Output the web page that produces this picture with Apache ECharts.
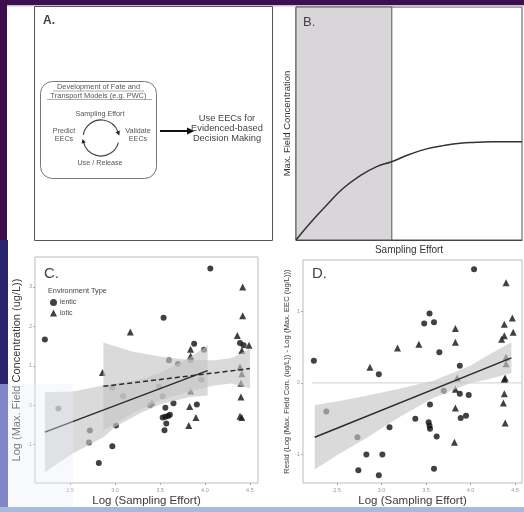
<!DOCTYPE html>
<html>
<head>
<meta charset="utf-8">
<script src="https://cdn.jsdelivr.net/npm/echarts@6/dist/echarts.min.js"></script>
<style>
  html, body { margin: 0; padding: 0; background: #fff; }
  #main { width: 524px; height: 512px; }
</style>
</head>
<body>
<div id="main"></div>
<script>
// panel B: conceptual curve (0-100 units on both axes)
var curveX = [0, 6.2, 13.6, 20.9, 28.3, 35.7, 42.3, 50.4, 57.8, 65.2, 72.6, 80, 87.3, 100]
var curveY = [0, 7.2, 15.0, 22.2, 27.5, 31.5, 33.6, 36.8, 39.1, 40.5, 41.5, 41.9, 42.2, 42.2]
var shadeEnd = 42.4

// panel C: log sampling effort vs log max field concentration
var lenticC = [
  [2.22, 1.67], [2.37, -0.08], [2.72, -0.64], [2.71, -0.94], [2.82, -1.46], [2.97, -1.04],
  [2.97, 0.45], [3.01, -0.51], [3.09, 0.23], [3.39, 0.0], [3.49, 0.47], [3.53, 0.23],
  [3.54, 2.22], [3.56, -0.06], [3.53, -0.31], [3.56, -0.29], [3.59, -0.27], [3.61, -0.24],
  [3.57, -0.46], [3.55, -0.63], [3.60, 1.14], [3.65, 0.05], [3.70, 1.05], [3.84, 1.14],
  [3.88, 1.56], [3.91, 0.02], [3.96, 0.65], [3.99, 1.41], [4.06, 3.47], [4.39, 1.58], [4.43, 1.52]
]
var loticC = [
  [2.86, 0.83], [3.17, 1.86], [3.41, 0.08], [3.82, -0.51], [3.83, -0.03], [3.84, 1.42],
  [3.84, 1.25], [3.84, 0.36], [3.90, -0.31], [4.36, 1.77], [4.42, 3.0], [4.42, 2.27],
  [4.41, 1.39], [4.49, 1.52], [4.39, 0.97], [4.41, 0.80], [4.40, 0.56], [4.40, 0.21],
  [4.39, -0.28], [4.41, -0.31]
]
var lenticFitC = [[2.22, -0.68], [4.03, 0.88]]
var loticFitC = [[2.87, 0.48], [4.5, 0.93]]
var lenticBandX = [2.22, 2.53, 2.87, 3.0, 3.28, 3.5, 3.83, 4.03]
var lenticBandLo = [-1.70, -1.22, -0.81, -0.55, -0.20, 0.02, 0.21, 0.25]
var lenticBandHi = [0.33, 0.35, 0.50, 0.55, 0.66, 0.82, 1.21, 1.52]
var loticBandX = [2.87, 3.2, 3.5, 3.83, 4.1, 4.3, 4.5]
var loticBandLo = [-0.64, -0.2, 0.12, 0.35, 0.5, 0.55, 0.43]
var loticBandHi = [1.59, 1.36, 1.24, 1.15, 1.14, 1.2, 1.44]

// panel D: residuals
var lenticD = [
  [2.24, 0.31], [2.38, -0.40], [2.73, -0.76], [2.74, -1.22], [2.83, -1.0], [2.97, 0.12],
  [3.01, -1.0], [2.97, -1.29], [3.09, -0.62], [3.38, -0.5], [3.48, 0.83], [3.54, 0.97],
  [3.545, -0.30], [3.53, -0.55], [3.54, -0.6], [3.545, -0.64], [3.59, 0.85], [3.62, -0.75],
  [3.59, -1.2], [3.65, 0.43], [3.70, -0.11], [3.88, 0.24], [3.88, -0.15], [3.89, -0.49],
  [3.95, -0.46], [3.98, -0.17], [4.04, 1.59]
]
var loticD = [
  [2.87, 0.22], [3.18, 0.49], [3.42, 0.54], [3.83, 0.76], [3.83, 0.57], [3.85, 0.07],
  [3.83, -0.09], [3.83, -0.35], [3.82, -0.83], [4.35, 0.61], [4.38, 0.66], [4.38, 0.82],
  [4.40, 1.40], [4.40, 0.36], [4.40, 0.27], [4.39, 0.07], [4.38, 0.05], [4.38, -0.15],
  [4.37, -0.28], [4.39, -0.56], [4.47, 0.91], [4.48, 0.71]
]
var fitD = [[2.25, -0.76], [4.46, 0.35]]
var zeroD = [[2.22, 0], [4.58, 0]]
var bandDX = [2.25, 2.5, 2.83, 3.2, 3.58, 4.0, 4.2, 4.46]
var bandDLo = [-1.21, -1.01, -0.77, -0.48, -0.21, 0.0, 0.05, 0.14]
var bandDHi = [-0.31, -0.26, -0.18, -0.08, 0.03, 0.24, 0.39, 0.57]

var xTicks = [2.5, 3.0, 3.5, 4.0, 4.5]
var yTicksC = [-1, 0, 1, 2, 3]
var yTicksD = [-1, 0, 1]

var FONT = "'Liberation Sans', Arial, sans-serif"

function zip(xs, ys) {
  return xs.map(function (x, i) { return [x, ys[i]] })
}

// confidence ribbon as a polygon, drawn on top of the points like ggplot does
function ribbon(gi, xs, lo, hi) {
  return {
    type: 'custom',
    xAxisIndex: gi,
    yAxisIndex: gi,
    z: 3,
    silent: true,
    data: [[xs[0], lo[0]]],
    renderItem: function (params, api) {
      var pts = []
      for (var i = 0; i < xs.length; i++) pts.push(api.coord([xs[i], hi[i]]))
      for (var j = xs.length - 1; j >= 0; j--) pts.push(api.coord([xs[j], lo[j]]))
      return {
        type: 'polygon',
        shape: { points: pts },
        style: { fill: 'rgba(198,198,198,0.65)' },
      }
    },
  }
}

function scatter(name, gi, data, symbol, size) {
  return {
    name: name,
    type: 'scatter',
    xAxisIndex: gi,
    yAxisIndex: gi,
    symbol: symbol,
    symbolSize: size,
    z: 2,
    itemStyle: { color: '#111' },
    data: data,
  }
}

function fitLine(gi, data, dash, color, width, z) {
  return {
    type: 'line',
    xAxisIndex: gi,
    yAxisIndex: gi,
    symbol: 'none',
    silent: true,
    z: z,
    lineStyle: { color: color, width: width, type: dash },
    data: data,
  }
}

function scatterX(gi, min, max, name) {
  return {
    type: 'value',
    gridIndex: gi,
    min: min,
    max: max,
    splitLine: { show: false },
    axisLine: { show: false, onZero: false },
    axisTick: { show: true, length: 2, customValues: xTicks, lineStyle: { color: '#aaa' } },
    axisLabel: {
      customValues: xTicks,
      fontSize: 5.5,
      color: '#999',
      margin: 4,
      formatter: function (v) { return v.toFixed(1) },
    },
    name: name,
    nameLocation: 'middle',
    nameGap: 12,
    nameTextStyle: { fontSize: 11.5, color: '#3a3a3a', fontFamily: FONT },
  }
}

function scatterY(gi, min, max, ticks, name, size, gap) {
  return {
    type: 'value',
    gridIndex: gi,
    min: min,
    max: max,
    splitLine: { show: false },
    axisLine: { show: false, onZero: false },
    axisTick: { show: true, length: 2, customValues: ticks, lineStyle: { color: '#aaa' } },
    axisLabel: { customValues: ticks, fontSize: 5.5, color: '#999', margin: 3 },
    name: name,
    nameLocation: 'middle',
    nameRotate: 90,
    nameGap: gap,
    nameTextStyle: { fontSize: size, color: '#3a3a3a', fontFamily: FONT },
  }
}

function txt(x, y, s, size, color, align, weight) {
  return {
    type: 'text',
    x: x,
    y: y,
    z: 10,
    style: {
      text: s,
      fontSize: size,
      fontFamily: FONT,
      fontWeight: weight || 'normal',
      fill: color,
      align: align || 'left',
      verticalAlign: 'middle',
    },
  }
}

function line(x1, y1, x2, y2, color, w) {
  return {
    type: 'line',
    z: 10,
    shape: { x1: x1, y1: y1, x2: x2, y2: y2 },
    style: { stroke: color, lineWidth: w },
  }
}

var myChart = echarts.init(document.getElementById('main'))
myChart.setOption({
  backgroundColor: '#ffffff',
  animation: false,
  textStyle: { fontFamily: FONT },
  grid: [
    { left: 296, top: 7, width: 226, height: 233, show: true, borderColor: '#555', borderWidth: 1 },
    { left: 35, top: 257, width: 223, height: 226, show: true, borderColor: '#bbb', borderWidth: 1 },
    { left: 303, top: 260, width: 219, height: 223, show: true, borderColor: '#bbb', borderWidth: 1 },
  ],
  xAxis: [
    {
      type: 'value',
      gridIndex: 0,
      min: 0,
      max: 100,
      splitLine: { show: false },
      axisTick: { show: false },
      axisLabel: { show: false },
      axisLine: { show: true, onZero: false, lineStyle: { color: '#444', width: 1 } },
      name: 'Sampling Effort',
      nameLocation: 'middle',
      nameGap: 5,
      nameTextStyle: { fontSize: 10, color: '#333', fontFamily: FONT, verticalAlign: 'top' },
    },
    scatterX(1, 2.11, 4.59, 'Log (Sampling Effort)'),
    scatterX(2, 2.118, 4.579, 'Log (Sampling Effort)'),
  ],
  yAxis: [
    {
      type: 'value',
      gridIndex: 0,
      min: 0,
      max: 100,
      splitLine: { show: false },
      axisTick: { show: false },
      axisLabel: { show: false },
      axisLine: { show: true, onZero: false, lineStyle: { color: '#444', width: 1 } },
      name: 'Max. Field Concentration',
      nameLocation: 'middle',
      nameRotate: 90,
      nameGap: 4,
      nameTextStyle: { fontSize: 9.5, color: '#333', fontFamily: FONT },
    },
    scatterY(1, -1.97, 3.76, yTicksC, 'Log (Max. Field Concentration (ug/L))', 11, 13),
    scatterY(2, -1.40, 1.72, yTicksD, 'Resid (Log (Max. Field Con. (ug/L)) - Log (Max. EEC (ug/L)))', 7.6, 12),
  ],
  legend: {
    data: [{ name: 'lentic', icon: 'circle' }, { name: 'lotic', icon: 'triangle' }],
    orient: 'vertical',
    left: 50,
    top: 299,
    padding: 0,
    itemWidth: 7,
    itemHeight: 7,
    itemGap: 3.5,
    selectedMode: false,
    textStyle: { fontSize: 7, color: '#444', padding: [0, 0, 0, -2] },
  },
  series: [
    {
      type: 'line',
      xAxisIndex: 0,
      yAxisIndex: 0,
      smooth: true,
      symbol: 'none',
      silent: true,
      lineStyle: { color: '#333', width: 1.5 },
      data: zip(curveX, curveY),
      markArea: {
        silent: true,
        itemStyle: { color: '#d9d6da', borderColor: '#555', borderWidth: 1 },
        data: [[{ xAxis: 0 }, { xAxis: shadeEnd }]],
      },
    },
    // panel C
    scatter('lentic', 1, lenticC, 'circle', 6),
    scatter('lotic', 1, loticC, 'triangle', 7),
    ribbon(1, lenticBandX, lenticBandLo, lenticBandHi),
    ribbon(1, loticBandX, loticBandLo, loticBandHi),
    fitLine(1, lenticFitC, 'solid', '#2b2b2b', 1.5, 4),
    fitLine(1, loticFitC, [5, 3], '#2b2b2b', 1.5, 4),
    // panel D
    fitLine(2, zeroD, 'solid', '#cfcfcf', 1, 1),
    scatter('lentic', 2, lenticD, 'circle', 6),
    scatter('lotic', 2, loticD, 'triangle', 7),
    ribbon(2, bandDX, bandDLo, bandDHi),
    fitLine(2, fitD, 'solid', '#2b2b2b', 1.5, 4),
  ],
  graphic: [
    // slide edges from the photo
    { type: 'rect', z: 0, shape: { x: 0, y: 0, width: 524, height: 5 }, style: { fill: '#3c0f4f' } },
    { type: 'rect', z: 0, shape: { x: 0, y: 5, width: 524, height: 1.5 }, style: { fill: '#cdbcd6' } },
    { type: 'rect', z: 0, shape: { x: 0, y: 0, width: 7, height: 240 }, style: { fill: '#3d0d4c' } },
    { type: 'rect', z: 0, shape: { x: 0, y: 240, width: 8, height: 144 }, style: { fill: '#2a226e' } },
    { type: 'rect', z: 0, shape: { x: 0, y: 384, width: 8, height: 128 }, style: { fill: '#7f87c6' } },
    { type: 'rect', z: 0, shape: { x: 0, y: 507, width: 524, height: 5 }, style: { fill: '#a7b9dd' } },
    { type: 'rect', z: 100, shape: { x: 8, y: 384, width: 65, height: 123 }, style: { fill: 'rgba(236,238,250,0.35)' } },

    // panel A: diagram
    { type: 'rect', z: 5, shape: { x: 34.5, y: 6.5, width: 238, height: 234 }, style: { fill: 'none', stroke: '#555', lineWidth: 1 } },
    txt(43, 21, 'A.', 12, '#444', 'left', 'bold'),
    { type: 'rect', z: 5, shape: { x: 40.5, y: 81.5, width: 116, height: 97, r: 12 }, style: { fill: 'none', stroke: '#777', lineWidth: 1 } },
    txt(98.5, 87, 'Development of Fate and', 7.4, '#555', 'center'),
    line(53, 91, 144, 91, '#777', 0.6),
    txt(98.5, 95.5, 'Transport Models (e.g. PWC)', 7.4, '#555', 'center'),
    line(47, 99.5, 152, 99.5, '#777', 0.6),
    txt(100, 114, 'Sampling Effort', 7.2, '#555', 'center'),
    txt(64, 131.5, 'Predict', 7.2, '#555', 'center'),
    txt(64, 139.5, 'EECs', 7.2, '#555', 'center'),
    txt(138, 131.5, 'Validate', 7.2, '#555', 'center'),
    txt(138, 139.5, 'EECs', 7.2, '#555', 'center'),
    txt(100, 163, 'Use / Release', 7.2, '#555', 'center'),
    {
      type: 'arc', z: 10,
      shape: { cx: 101, cy: 138, r: 18, startAngle: 190 * Math.PI / 180, endAngle: 340 * Math.PI / 180, clockwise: true },
      style: { fill: 'none', stroke: '#444', lineWidth: 1.2 },
    },
    {
      type: 'arc', z: 10,
      shape: { cx: 101, cy: 138, r: 18, startAngle: 15 * Math.PI / 180, endAngle: 165 * Math.PI / 180, clockwise: true },
      style: { fill: 'none', stroke: '#444', lineWidth: 1.2 },
    },
    { type: 'polygon', z: 10, shape: { points: [[119.8, 130.6], [115.6, 132.2], [119.3, 135.6]] }, style: { fill: '#222' } },
    { type: 'polygon', z: 10, shape: { points: [[85.8, 142.4], [81.5, 143.5], [82.6, 138.9]] }, style: { fill: '#222' } },
    line(160, 131, 189, 131, '#111', 2),
    { type: 'polygon', z: 10, shape: { points: [[187, 127.5], [194.5, 131], [187, 134.5]] }, style: { fill: '#111' } },
    txt(227, 118, 'Use EECs for', 9.3, '#444', 'center'),
    txt(227, 128, 'Evidenced-based', 9.3, '#444', 'center'),
    txt(227, 138, 'Decision Making', 9.3, '#444', 'center'),

    // panel letters
    txt(303, 22, 'B.', 13, '#444'),
    txt(44, 274, 'C.', 15, '#444'),
    txt(312, 274, 'D.', 15, '#444'),
    txt(48, 291, 'Environment Type', 7.3, '#444'),
  ],
})
</script>
</body>
</html>
